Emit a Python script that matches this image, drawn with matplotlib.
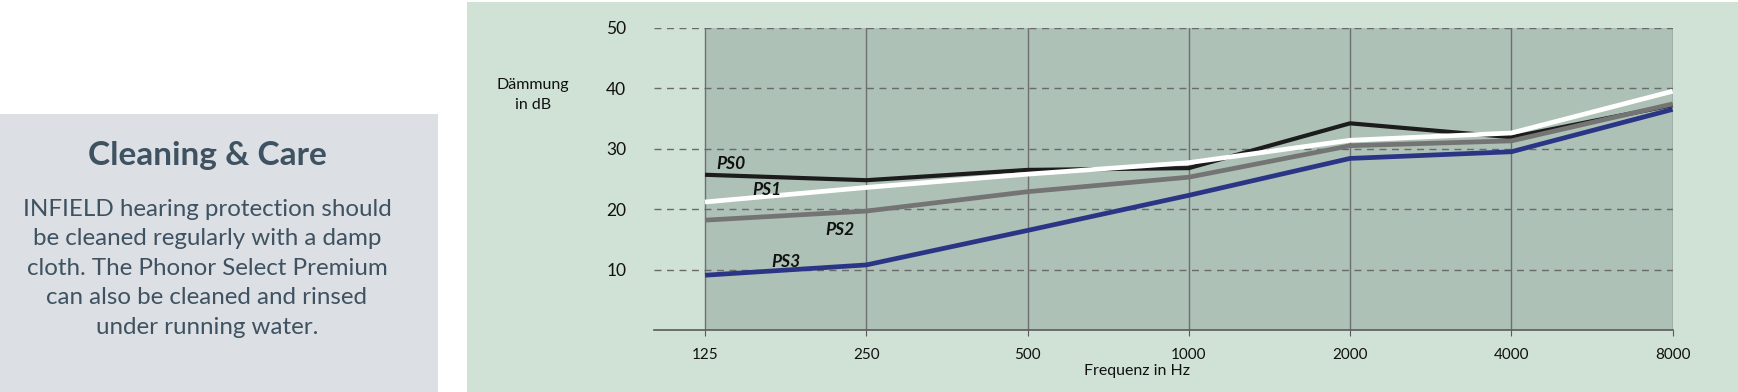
import matplotlib.pyplot as plt
from matplotlib.patches import Rectangle

plt.rcParams['font.family'] = ['Lato', 'DejaVu Sans']

# Daten
freqs = ['125', '250', '500', '1000', '2000', '4000', '8000']
ps0 = [25.7, 24.8, 26.5, 26.8, 34.2, 31.9, 37.2]
ps1 = [21.2, 23.6, 25.8, 27.7, 31.4, 32.6, 39.5]
ps2 = [18.2, 19.7, 22.9, 25.3, 30.5, 31.3, 37.4]
ps3 = [9.1, 10.8, 16.5, 22.3, 28.4, 29.5, 36.5]
yticks = [10, 20, 30, 40, 50]

series = [('PS0', ps0, '#1c1c1c', 3.0),
          ('PS2', ps2, '#747474', 3.4),
          ('PS3', ps3, '#2b3585', 3.4),
          ('PS1', ps1, '#ffffff', 3.4)]
label_pos = {'PS0': (0.164, 27.4), 'PS1': (0.385, 23.2), 'PS2': (0.837, 16.65), 'PS3': (0.502, 11.3)}

W, H = 1738, 392
fig = plt.figure(figsize=(W / 100, H / 100), dpi=100)
fig.patch.set_facecolor('white')

# linke Box
fig.patches.append(Rectangle((0, 0), 438 / W, (H - 114) / H, transform=fig.transFigure,
                             facecolor='#dcdfe3', edgecolor='none', zorder=-2))
txt_col = '#3e5261'
fig.text(207 / W, 1 - 156 / H, 'Cleaning & Care', ha='center', va='center',
         fontsize=24, fontweight='bold', color=txt_col)
body = ['INFIELD hearing protection should', 'be cleaned regularly with a damp',
        'cloth. The Phonor Select Premium', 'can also be cleaned and rinsed',
        'under running water.']
for i, line in enumerate(body):
    fig.text(207 / W, 1 - (209.5 + i * 29.4) / H, line, ha='center', va='center',
             fontsize=17.4, color=txt_col)

# gruene Flaeche
fig.patches.append(Rectangle((467 / W, 0), (W - 467) / W, (H - 2) / H, transform=fig.transFigure,
                             facecolor='#cfe2d5', edgecolor='none', zorder=-2))

ax = fig.add_axes([654 / W, 61.7 / H, (1672.6 - 654) / W, (330.3 - 27.7) / H])
ax.set_facecolor('none')
x = list(range(len(freqs)))
ax.set_xlim(-51 / 161.3, len(freqs) - 1)
ax.set_ylim(0, 50)

ax.axvspan(0, len(freqs) - 1, ymin=0, ymax=1, facecolor='#adc1b6', edgecolor='none', zorder=0)
for xi in x:
    ax.axvline(xi, color='#6f6f6f', lw=1.0, zorder=1)
for yt in yticks:
    ax.axhline(yt, color='#6a6a6a', lw=1.0, ls=(0, (5, 4)), zorder=1)

for name, vals, col, lw in series:
    ax.plot(x, vals, color=col, lw=lw, solid_capstyle='butt', zorder=3, clip_on=False)
    lx, ly = label_pos[name]
    ax.text(lx, ly, name, fontsize=12.5, fontweight='bold', fontstyle='italic',
            color='#111111', ha='center', va='center', zorder=4)

for s in ['top', 'right', 'left']:
    ax.spines[s].set_visible(False)
ax.spines['bottom'].set_color('#5a5a5a')
ax.spines['bottom'].set_linewidth(1.2)

ax.set_xticks(x)
ax.set_xticklabels(freqs, fontsize=11, color='#111111')
ax.tick_params(axis='x', length=4, color='#5a5a5a', pad=9)
ax.set_yticks(yticks)
ax.set_yticklabels([str(v) for v in yticks], fontsize=12.5, color='#111111')
ax.tick_params(axis='y', length=0, pad=20)

fig.text(1137 / W, 1 - 371 / H, 'Frequenz in Hz', ha='center', va='center',
         fontsize=11.5, color='#111111')
fig.text(533 / W, 1 - 95 / H, 'Dämmung\nin dB', ha='center', va='center',
         fontsize=11.5, color='#111111', linespacing=1.55)

fig.savefig('out.png', dpi=100, facecolor=fig.get_facecolor())
